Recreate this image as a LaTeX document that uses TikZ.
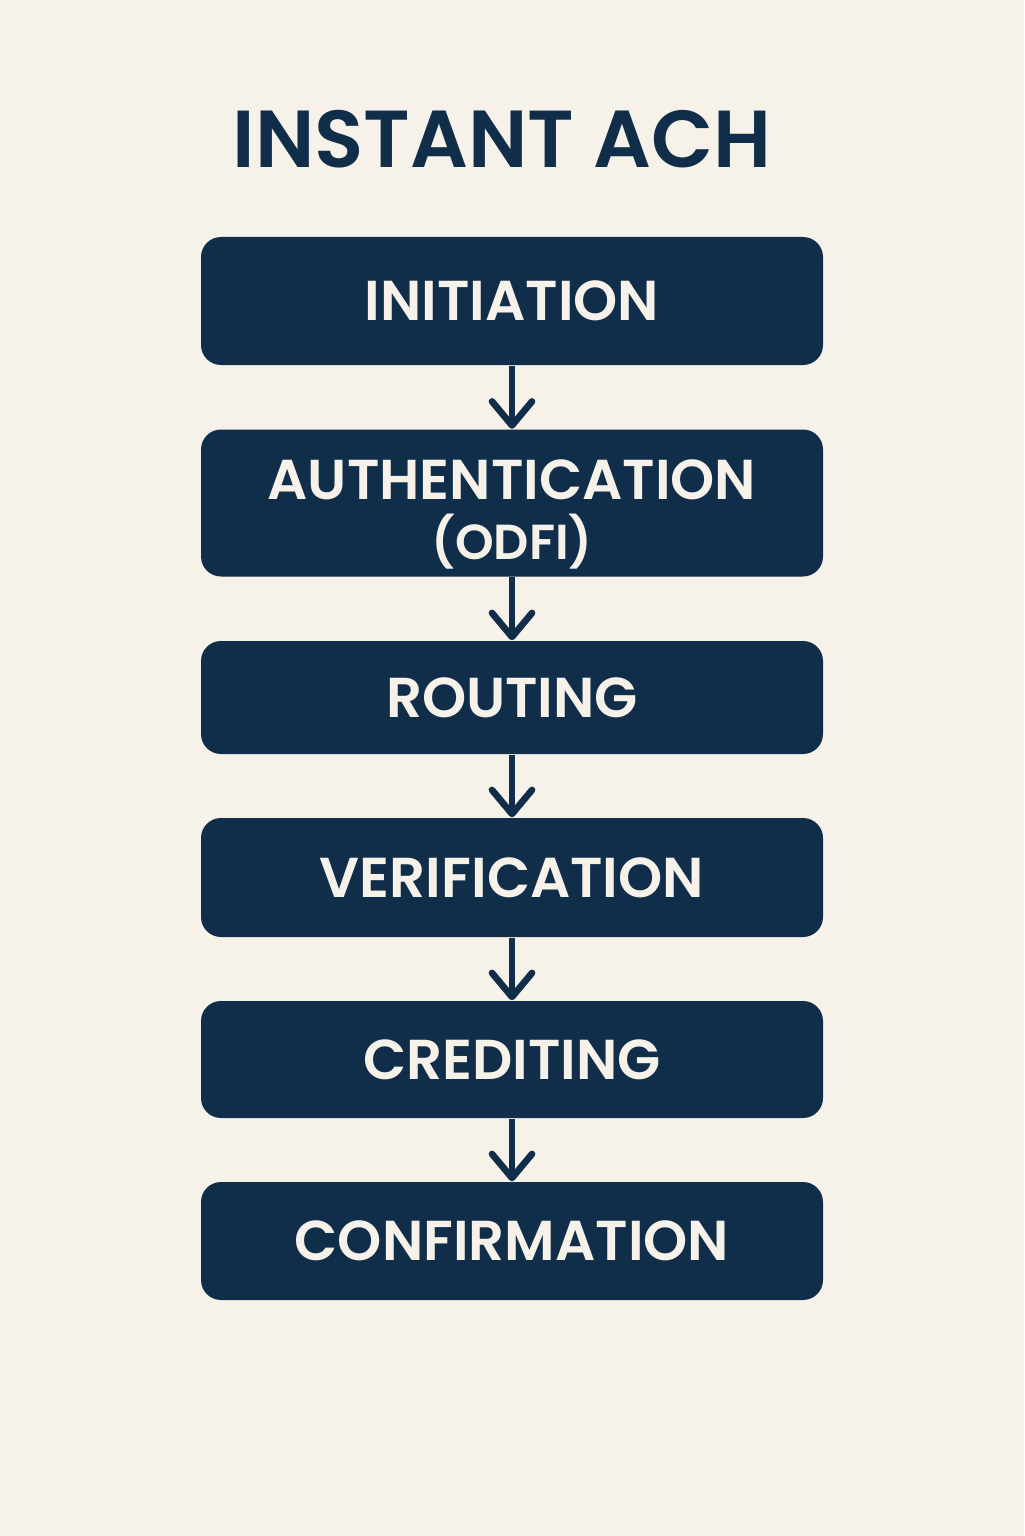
\documentclass[tikz,border=0pt]{standalone}
\usepackage{fontspec}
\setmainfont{Poppins}[BoldFont={Poppins SemiBold}]
\usetikzlibrary{arrows.meta,positioning}
\definecolor{navy}{HTML}{102E4A}
\definecolor{cream}{HTML}{F6F1E9}

\begin{document}
\begin{tikzpicture}
[box/.style={rectangle, rounded corners=0.2cm, fill=navy, text=cream,
minimum width=6.22cm, inner sep=0pt, align=center,
font=\bfseries\fontsize{16}{22}\selectfont},
flow/.style={draw=navy, line width=1.9pt,
-{Straight Barb[length=0.24cm, width=0.40cm, line cap=round, line join=round]}}]
\fill[cream] (0,0) rectangle (10.24,-15.36);
\node[text=navy, font=\bfseries\fontsize{23}{28}\selectfont] (title) at (5.02,-1.39) {INSTANT ACH};
\node[box, minimum height=1.28cm] (initiation) at (5.12,-3.01) {INITIATION};
\node[box, minimum height=1.47cm] (auth) at (5.12,-5.03) {\rule{0pt}{0.62cm}AUTHENTICATION\\[-5pt]{\fontsize{14}{18}\selectfont(ODFI)}};
\node[box, minimum height=1.13cm] (routing) at (5.12,-6.975) {ROUTING};
\node[box, minimum height=1.19cm] (verification) at (5.12,-8.775) {VERIFICATION};
\node[box, minimum height=1.17cm] (crediting) at (5.12,-10.595) {CREDITING};
\node[box, minimum height=1.18cm] (confirmation) at (5.12,-12.41) {CONFIRMATION};

\draw[flow] (initiation) -- (auth);
\draw[flow] (auth) -- (routing);
\draw[flow] (routing) -- (verification);
\draw[flow] (verification) -- (crediting);
\draw[flow] (crediting) -- (confirmation);
\end{tikzpicture}
\end{document}
